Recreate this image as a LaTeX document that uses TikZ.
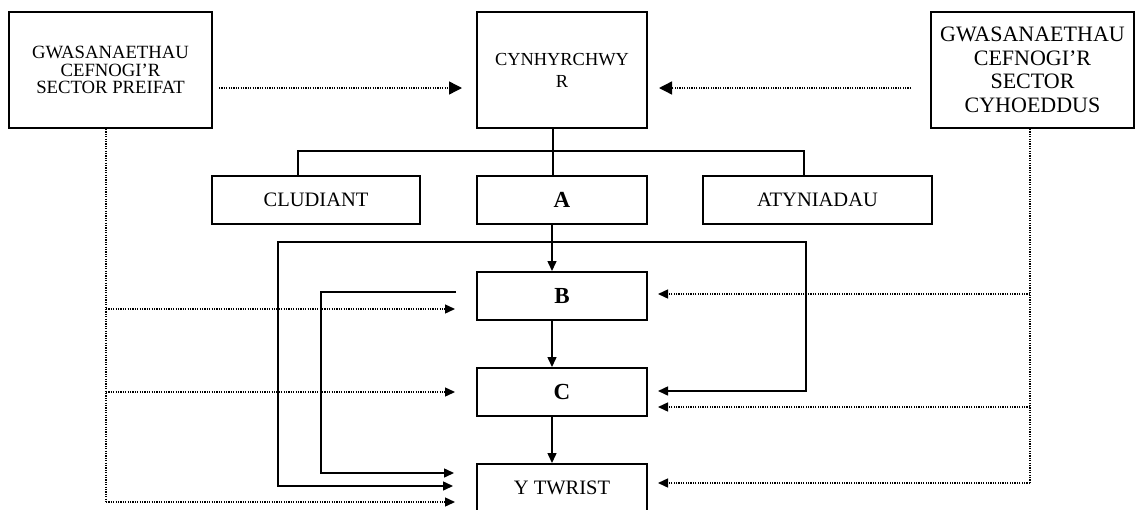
\documentclass[tikz,border=0pt]{standalone}
\usepackage{fontspec}
\setmainfont{Liberation Serif}
\usetikzlibrary{arrows.meta}
\begin{document}
\begin{tikzpicture}[x=0.5pt,y=-0.5pt,
  box/.style={draw,line width=1pt,inner sep=0pt,align=center,minimum height=24pt},
  lbl/.style={font=\fontsize{10.25}{12}\selectfont},
  bld/.style={font=\fontsize{11.5}{13}\selectfont\bfseries},
  conn/.style={line width=0.75pt},
  tip/.tip={Triangle[length=5pt,width=4.5pt]},
  bigtip/.tip={Triangle[length=6.5pt,width=6.5pt]},
  arr/.style={conn,-tip},
  dot/.style={line width=0.7pt,dash pattern=on 0.6pt off 0.6pt},
  darr/.style={dot,-tip},
  bdarr/.style={dot,-bigtip}]
\useasboundingbox (0,0) rectangle (1135,509);
\clip (0,0) rectangle (1135,509);

% top row
\node[box,minimum width=101.5pt,minimum height=58pt,font=\fontsize{9.35}{8.9}\selectfont] (priv) at (110.5,70) {\raisebox{-1.5pt}{\parbox{100pt}{\centering GWASANAETHAU\\CEFNOGI’R\\SECTOR PREIFAT}}};
\node[box,minimum width=85pt,minimum height=58pt,font=\fontsize{9.2}{11}\selectfont] (cyn) at (562,70) {CYNHYRCHWY\\R};
\node[box,minimum width=101.5pt,minimum height=58pt,font=\fontsize{11}{11.8}\selectfont] (pub) at (1032.5,70) {GWASANAETHAU\\CEFNOGI’R\\SECTOR\\CYHOEDDUS};

% second row
\node[box,lbl,minimum width=104pt] (clud) at (316,200) {CLUDIANT};
\node[box,bld,minimum width=85pt] (A) at (562,200) {A};
\node[box,lbl,minimum width=114.5pt] (atyn) at (817.5,200) {ATYNIADAU};

% chain
\node[box,bld,minimum width=85pt] (B) at (562,296) {B};
\node[box,bld,minimum width=85pt] (C) at (562,392) {C};
\node[box,lbl,minimum width=85pt] (tw) at (562,488) {Y TWRIST};

% tree connectors
\draw[conn] ([xshift=-4.5pt]cyn.south) -- ([xshift=-4.5pt]A.north);
\draw[conn] ([xshift=-9pt]clud.north) |- ([xshift=-6.75pt,yshift=12pt]atyn.north) -- ([xshift=-6.75pt]atyn.north);

% chain arrows
\draw[arr] ([xshift=-5pt]A.south) -- ([xshift=-5pt]B.north);
\draw[arr] ([xshift=-5pt]B.south) -- ([xshift=-5pt]C.north);
\draw[arr] ([xshift=-5pt]C.south) -- ([xshift=-5pt]tw.north);

% outer bracket
\coordinate (ob) at (806,242);
\coordinate (ol) at (278,486);
\draw[conn,tip-tip] ([xshift=5pt,yshift=0.5pt]C.east) -| (ob) -| (ol) -- ([xshift=-11.5pt,yshift=1pt]tw.west);

% inner bracket
\coordinate (ib) at (456,292);
\coordinate (il) at (321,473);
\draw[arr] (ib) -| (il) -- ([xshift=-11pt,yshift=7.5pt]tw.west);

% top dotted arrows
\draw[bdarr] ([xshift=3pt,yshift=-9pt]priv.east) -- ([xshift=-7pt,yshift=-9pt]cyn.west);
\draw[bdarr] ([xshift=-9.5pt,yshift=-9pt]pub.west) -- ([xshift=5.5pt,yshift=-9pt]cyn.east);

% left dotted feeds
\coordinate (lb) at (106,309);
\coordinate (lc) at (106,392);
\coordinate (lt) at (106,502);
\draw[dot] ([xshift=-2.25pt]priv.south) -- (lt);
\draw[darr] (lb) -- ([xshift=-10.5pt,yshift=-6.5pt]B.west);
\draw[darr] (lc) -- ([xshift=-10.5pt]C.west);
\draw[darr] (lt) -- ([xshift=-10.5pt,yshift=-7pt]tw.west);

% right dotted feeds
\coordinate (rb) at (1030,294);
\coordinate (rc) at (1030,407);
\coordinate (rt) at (1030,483);
\draw[dot] ([xshift=-1.25pt]pub.south) -- (rt);
\draw[darr] (rb) -- ([xshift=5pt,yshift=1pt]B.east);
\draw[darr] (rc) -- ([xshift=5pt,yshift=-7.5pt]C.east);
\draw[darr] (rt) -- ([xshift=5pt,yshift=2.5pt]tw.east);
\end{tikzpicture}
\end{document}
